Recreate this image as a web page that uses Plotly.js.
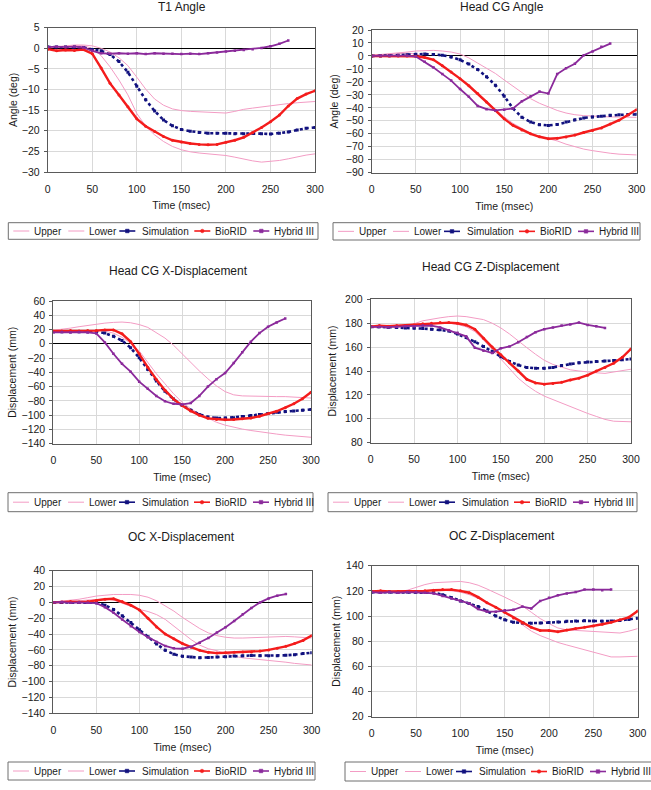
<!DOCTYPE html>
<html>
<head>
<meta charset="utf-8">
<script src="https://cdn.plot.ly/plotly-3.0.1.min.js"></script>
<style>
  html, body { margin: 0; padding: 0; background: #ffffff; }
  #chart { width: 651px; height: 790px; }
</style>
</head>
<body>
<div id="chart"></div>
<script>
// Sample times (msec), every 10 ms
const TIME = [0,10,20,30,40,50,60,70,80,90,100,110,120,130,140,150,160,170,180,190,200,210,220,230,240,250,260,270,280,290,300];

const SERIES_NAMES = ['Upper', 'Lower', 'Simulation', 'BioRID', 'Hybrid III'];

// T1 Angle (deg)
const t1Upper = [0.2,0.4,0.6,0.8,0.8,0.6,0,-0.9,-2.3,-4.2,-7,-9.9,-12.3,-13.8,-14.7,-15.1,-15.3,-15.4,-15.4,-15.5,-15.7,-15.3,-14.8,-14.5,-14.2,-13.9,-13.7,-13.4,-13.2,-13.0,-12.9];
const t1Lower = [0.2,0.3,0.5,0.7,0.6,0,-1.8,-4.5,-7.7,-11.3,-15.8,-18.9,-21,-22.6,-23.8,-24.6,-25.1,-25.4,-25.6,-25.8,-26,-26.4,-26.9,-27.3,-27.6,-27.4,-27.2,-26.8,-26.3,-25.9,-25.6];
const t1Sim = [0.3,0.3,0.3,0.3,0.2,-0.3,-0.6,-1.5,-3.2,-5.8,-9.2,-12.5,-15.2,-17.4,-18.8,-19.7,-20.1,-20.4,-20.6,-20.6,-20.6,-20.7,-20.7,-20.6,-20.7,-20.8,-20.6,-20.3,-19.8,-19.4,-19.2];
const t1BioRID = [-0.2,-0.6,-0.4,-0.5,-0.3,-1.3,-4.8,-8.5,-11.3,-14.2,-17.1,-18.9,-20.2,-21.4,-22.3,-22.7,-23.1,-23.3,-23.4,-23.3,-22.8,-22.3,-21.6,-20.5,-19.2,-17.8,-16.2,-14,-12.2,-11.1,-10.3];
const t1Hybrid = [0.3,0.4,0.3,0.4,0.2,-0.6,-1.2,-1.3,-1.2,-1.3,-1.2,-1.4,-1.2,-1.3,-1.3,-1.4,-1.3,-1.4,-1.2,-1.0,-0.8,-0.6,-0.4,-0.2,0.1,0.5,1.1,1.9];

// Head CG Angle (deg)
const hAngUpper = [0.5,1,1.5,2.3,3,3.8,4.2,4.3,3.8,3,1.5,-1.5,-5.5,-9.5,-13.5,-18.5,-23.5,-28.5,-33,-36.5,-39.5,-42,-44,-45.3,-46,-46.5,-46.8,-47,-47.1,-47.2,-47.3];
const hAngLower = [0.5,1,1.5,2,2.2,1.5,-0.5,-3,-7,-12,-17.5,-23,-29,-35,-41,-47,-52,-56,-59.5,-62,-63.5,-65.5,-68,-70,-71.8,-73,-74.2,-75,-75.7,-76.1,-76.3];
const hAngSim = [0,0,0.2,0.5,1,1.3,1.5,1.2,0.5,-0.8,-3,-6.3,-10.5,-16,-22.5,-31,-40.5,-47.3,-51,-53,-53.6,-52.8,-51,-49.2,-47.8,-47,-46.4,-45.8,-45.4,-45.2,-45];
const hAngBioRID = [0,0,0,0,0,-0.3,-1.2,-3,-7.5,-12.4,-17.5,-23,-29,-35.5,-42,-48.5,-53.5,-57,-60,-62.3,-63.8,-63.5,-62.5,-61,-59,-57.5,-55.5,-52.5,-49.5,-45.5,-41.4];
const hAngHybrid = [0,0.3,0.2,0.3,0.2,-0.5,-4.5,-9,-14,-19,-25.5,-31.5,-38.5,-41,-42,-41.5,-40.5,-35,-31,-27.5,-29,-14,-9.5,-6,0.5,3.5,7,9.5];

// Head CG X-Displacement (mm)
const hXUpper = [19,20,22,24,26,27.5,29,30,30.5,29.5,27,23,16,8,-2,-14,-27,-38,-49,-59,-67,-71.5,-73,-73.5,-74,-74.5,-74,-74,-74.5,-75,-76];
const hXLower = [17,17.5,18,18.5,19,19,18,15,9,1,-10,-26,-42,-56,-70,-82,-91,-98,-104.5,-110,-114,-117,-119.5,-121.5,-123.5,-125,-126.5,-128,-129,-130,-131];
const hXSim = [17,17,17,17,17,17,15,10.5,4.5,-5.5,-19.5,-36,-52,-66.5,-77.5,-86.5,-93,-99,-102.5,-104,-104,-103.5,-102,-100.5,-99,-97.5,-96,-95,-94,-93,-92];
const hXBioRID = [18,18,18.5,18,18.5,18.5,19.5,19.5,14,3,-14,-33,-50,-65,-77.5,-86.5,-94,-100,-104.5,-106,-106.5,-106,-105,-104,-101.5,-98,-94.5,-89.5,-84,-77,-68];
const hXHybrid = [16,16.5,16,16.5,16,14.5,2,-14,-28,-39,-53,-63,-73,-80.5,-84,-85,-83,-73,-60,-49.5,-41,-27,-12,3,15,24,30,35.5];

// Head CG Z-Displacement (mm)
const hZUpper = [177,177,177,177.5,178,179.5,182,183.5,184.5,185.5,186,185.5,184.5,183,180,176,171,165,159.5,154,149,145.5,143,141,140,139,138.5,138,139,140.5,141.5];
const hZLower = [177,177.5,178,178,178,178.5,179,180,180.5,180,179,177,173,166,158,150,142,134,128,123,119,116,113,110,107,104.5,102,99.5,98,97.5,97.5];
const hZSim = [177,177,176.5,176.5,176,176,175.5,175,174.5,173.5,171,168,164.5,160.5,156.5,152,148,145,143,142.3,142.3,143,144.5,145.8,146.8,147.5,148,148.3,148.8,149.5,150];
const hZBioRID = [177,178,177.5,178,178,178.5,179.5,180,180.5,180.5,180,178.5,175,167.5,160,153.5,147,140,133,130,129,129.5,130.5,132.5,134,136.5,140,143,146.5,151.5,158.5];
const hZHybrid = [177,177,176.5,177,177.5,177.5,178,178,176.5,174,172,169,159.5,157,155,159,160.5,164,168.5,172.5,175,176.5,178,179,180.5,178.5,177.5,176];

// OC X-Displacement (mm)
const ocXUpper = [0.5,1.5,2.5,4,6,8,9,10,10,10,9,6.5,2,-4,-11,-19,-26,-33,-38.5,-42,-44,-45,-45,-44.5,-44,-43.5,-43,-43,-43.5,-44,-45];
const ocXLower = [0,0.5,1,2,3,4,4.5,3,-1,-5,-9,-11.5,-15.5,-21.5,-30,-38.5,-47,-54,-58.5,-61,-64.5,-68,-70,-71,-72.5,-73.5,-74.5,-75.5,-77,-78,-79];
const ocXSim = [0,0,0,0,0,-0.5,-3.5,-9,-17,-25.5,-34.5,-43.5,-52.5,-60.5,-65.5,-68,-69,-69.8,-69.5,-69,-68.5,-67.8,-67.2,-67,-67.2,-67.2,-67.2,-66.8,-66,-64.5,-63.5];
const ocXBioRID = [0,0.5,1,0.5,1,2.5,4,4.5,1,-3.5,-9.5,-20,-31,-40,-46,-52,-56.5,-60.5,-63,-64,-63.5,-63,-62.5,-62.5,-61.5,-60,-58,-55.5,-52,-48,-42];
const ocXHybrid = [0,0.5,-0.5,0,-0.5,-1,-6,-13,-21.5,-30,-37.5,-44,-50,-55,-58,-58.5,-56,-51,-45,-38,-31.5,-23.5,-15,-7,0,5,8.5,10.5];

// OC Z-Displacement (mm)
const ocZUpper = [119,119,119,119.5,120.5,123,125,126.5,127,127.5,127.5,126.5,124.5,121.5,118.5,115,111.5,108,103,98,94,90.5,89,88.5,88,87.5,87,87,86.5,88,90];
const ocZLower = [119,119,119.5,119.5,119.5,119.5,120,120.5,120.5,120,119,117,114,111,107,103,98.5,93,88,84.5,81.5,79,77,75,73,71,69,67.5,67.5,67.5,68];
const ocZSim = [119,119,119,119,119,119,119,118.5,117,114.5,112,110,107.5,104,100,97,95,94.5,94.3,94.5,94.8,95.3,95.8,96,96.2,96,95.8,96,96.5,97.3,98.3];
const ocZBioRID = [119.5,120,119.5,119.5,119.5,119.5,120,120.5,121,121,120,118.5,115,110.5,107,103,98.5,94.5,91,88.5,88.5,87.5,89,90,91,92,93.5,95,97,99,104];
const ocZHybrid = [119,118.5,119,118.5,119,119,118.5,118,116,114,112,110,105.5,103.5,103.5,104.5,105,107.5,106,112,114.5,116.5,118,119,121,121,120.5,121];

// ---------------------------------------------------------------------------
const W = 651, H = 790;
const FONT = 'Liberation Sans, Arial, sans-serif';
const TXT = '#1a1a1a';

// Panel geometry in pixels: plot box [left, right, top, bottom],
// title centre [x, y], legend box [left, right, top, bottom]
const PANELS = [
  { title: 'T1 Angle', ytitle: 'Angle (deg)', yrange: [-30, 5], dtick: 5, ystand: 2,
    box: [47.7, 315, 27.7, 172], tpos: [182, 7], leg: [8.3, 318, 222.7, 239.3],
    data: [t1Upper, t1Lower, t1Sim, t1BioRID, t1Hybrid] },
  { title: 'Head CG Angle', ytitle: 'Angle (deg)', yrange: [-90, 20], dtick: 10, ystand: 5,
    box: [371.7, 636.7, 30, 172.7], tpos: [502, 7], leg: [333, 640, 222.7, 240],
    data: [hAngUpper, hAngLower, hAngSim, hAngBioRID, hAngHybrid] },
  { title: 'Head CG X-Displacement', ytitle: 'Displacement (mm)', yrange: [-140, 60], dtick: 20, ystand: 2,
    box: [53.3, 311, 301, 443.7], tpos: [178, 271], leg: [8, 313, 492.7, 511.7],
    data: [hXUpper, hXLower, hXSim, hXBioRID, hXHybrid] },
  { title: 'Head CG Z-Displacement', ytitle: 'Displacement (mm)', yrange: [80, 200], dtick: 20, ystand: 6,
    box: [370.7, 631, 299.3, 442.7], tpos: [491, 267], leg: [328, 637, 492.7, 511.7],
    data: [hZUpper, hZLower, hZSim, hZBioRID, hZHybrid] },
  { title: 'OC X-Displacement', ytitle: 'Displacement (mm)', yrange: [-140, 40], dtick: 20, ystand: 2,
    box: [53.3, 311.7, 570.7, 713.3], tpos: [182, 537], leg: [8, 315, 762, 780],
    data: [ocXUpper, ocXLower, ocXSim, ocXBioRID, ocXHybrid] },
  { title: 'OC Z-Displacement', ytitle: 'Displacement (mm)', yrange: [20, 140], dtick: 20, ystand: 3,
    box: [371.7, 637.7, 565.7, 716.7], tpos: [502, 535.7], leg: [345, 652, 762, 781],
    data: [ocZUpper, ocZLower, ocZSim, ocZBioRID, ocZHybrid] }
];

// Trace styles per series
const STYLES = [
  { color: '#f39cc4', line: { width: 1 }, mode: 'lines' },
  { color: '#f39cc4', line: { width: 1 }, mode: 'lines' },
  { color: '#12127f', line: { width: 2.6, dash: 'dot' }, mode: 'lines+markers', marker: { symbol: 'square', size: 3 } },
  { color: '#f41c1c', line: { width: 2.4 }, mode: 'lines+markers', marker: { symbol: 'circle', size: 3 } },
  { color: '#8b2a9b', line: { width: 1.8 }, mode: 'lines+markers', marker: { symbol: 'square', size: 2.5 } }
];

// Legend layout (px offsets from legend box left edge)
const LEG_LINE_X = [5, 60, 111, 186, 245];
const LEG_LINE_LEN = 16;
const LEG_TEXT_X = [24, 79, 132, 205, 264];

const px = v => v / W;
const py = v => 1 - v / H;

const traces = [];
const layout = {
  width: W, height: H,
  margin: { l: 0, r: 0, t: 0, b: 0 },
  paper_bgcolor: '#ffffff',
  plot_bgcolor: '#ffffff',
  showlegend: false,
  font: { family: FONT, size: 10.5, color: TXT },
  shapes: [],
  annotations: []
};

let extraAxis = 20;

PANELS.forEach((p, i) => {
  const n = i + 1;
  const xid = n === 1 ? 'x' : 'x' + n;
  const yid = n === 1 ? 'y' : 'y' + n;
  const xname = n === 1 ? 'xaxis' : 'xaxis' + n;
  const yname = n === 1 ? 'yaxis' : 'yaxis' + n;
  const [l, r, t, b] = p.box;
  const xdom = [px(l), px(r)];
  const ydom = [py(b), py(t)];

  layout[xname] = {
    domain: xdom, anchor: yid, range: [0, 300], tick0: 0, dtick: 50,
    showgrid: true, gridcolor: '#d9d9d9', gridwidth: 1,
    showline: true, linecolor: '#5a5a5a', linewidth: 1, mirror: true,
    ticks: '', ticklabelstandoff: 7, zeroline: false,
    tickfont: { size: 10.5, color: TXT, family: FONT },
    title: { text: 'Time (msec)', font: { size: 10.5, color: TXT, family: FONT }, standoff: 8 }
  };
  const hasZero = p.yrange[0] < 0 && p.yrange[1] > 0;
  layout[yname] = {
    domain: ydom, anchor: xid, range: p.yrange, tick0: 0, dtick: p.dtick,
    showgrid: true, gridcolor: '#d9d9d9', gridwidth: 1,
    showline: true, linecolor: '#5a5a5a', linewidth: 1, mirror: true,
    ticks: 'outside', ticklen: 3, tickcolor: '#5a5a5a', ticklabelstandoff: 2,
    zeroline: hasZero, zerolinecolor: '#000000', zerolinewidth: 1,
    tickfont: { size: 10.5, color: TXT, family: FONT },
    title: { text: p.ytitle, font: { size: 10.5, color: TXT, family: FONT }, standoff: p.ystand }
  };

  // Tick marks crossing the zero line: a hidden thin y axis whose domain
  // sits on y = 0 carries an x axis with ticks on both sides.
  if (hasZero) {
    const zf = (0 - p.yrange[0]) / (p.yrange[1] - p.yrange[0]);
    const zy = ydom[0] + zf * (ydom[1] - ydom[0]);
    const ax = extraAxis++;
    layout['yaxis' + ax] = {
      domain: [zy - 0.0003, zy + 0.0003], anchor: 'x' + ax, visible: false,
      showgrid: false, zeroline: false, range: [0, 1], fixedrange: true
    };
    layout['xaxis' + ax] = {
      domain: xdom, anchor: 'y' + ax, range: [0, 300], tick0: 0, dtick: 50,
      ticks: 'outside', ticklen: 3, tickcolor: '#000000', tickwidth: 1,
      mirror: 'ticks', showline: false, showgrid: false, zeroline: false,
      showticklabels: false, fixedrange: true
    };
  }

  p.data.forEach((vals, k) => {
    const s = STYLES[k];
    const tr = {
      type: 'scatter', x: TIME, y: vals, name: SERIES_NAMES[k],
      xaxis: xid, yaxis: yid, mode: s.mode,
      line: Object.assign({ color: s.color }, s.line),
      hoverinfo: 'skip', cliponaxis: true
    };
    if (s.marker) tr.marker = Object.assign({ color: s.color }, s.marker);
    traces.push(tr);
  });

  // Panel title
  layout.annotations.push({
    xref: 'paper', yref: 'paper', x: px(p.tpos[0]), y: py(p.tpos[1]),
    xanchor: 'center', yanchor: 'middle', showarrow: false,
    text: p.title, font: { size: 12, color: TXT, family: FONT }
  });

  // Legend box with one entry per series
  const [lx0, lx1, ly0, ly1] = p.leg;
  const yc = py((ly0 + ly1) / 2);
  layout.shapes.push({
    type: 'rect', xref: 'paper', yref: 'paper',
    x0: px(lx0), x1: px(lx1), y0: py(ly1), y1: py(ly0),
    line: { color: '#6e6e6e', width: 1 }, fillcolor: 'rgba(0,0,0,0)'
  });
  SERIES_NAMES.forEach((name, k) => {
    const s = STYLES[k];
    const xa = lx0 + LEG_LINE_X[k];
    const xb = xa + LEG_LINE_LEN;
    layout.shapes.push({
      type: 'line', xref: 'paper', yref: 'paper',
      x0: px(xa), x1: px(xb), y0: yc, y1: yc,
      line: { color: s.color, width: k < 2 ? 1 : 1.6 }
    });
    if (s.marker) {
      const cx = (xa + xb) / 2, cy = (ly0 + ly1) / 2, h = 1.8;
      layout.shapes.push({
        type: s.marker.symbol === 'circle' ? 'circle' : 'rect',
        xref: 'paper', yref: 'paper',
        x0: px(cx - h), x1: px(cx + h), y0: py(cy + h), y1: py(cy - h),
        line: { color: s.color, width: 0.5 }, fillcolor: s.color
      });
    }
    layout.annotations.push({
      xref: 'paper', yref: 'paper', x: px(lx0 + LEG_TEXT_X[k]), y: yc,
      xanchor: 'left', yanchor: 'middle', showarrow: false,
      text: name, font: { size: 10, color: TXT, family: FONT }
    });
  });
});

Plotly.newPlot('chart', traces, layout, { staticPlot: true, displayModeBar: false });
</script>
</body>
</html>
